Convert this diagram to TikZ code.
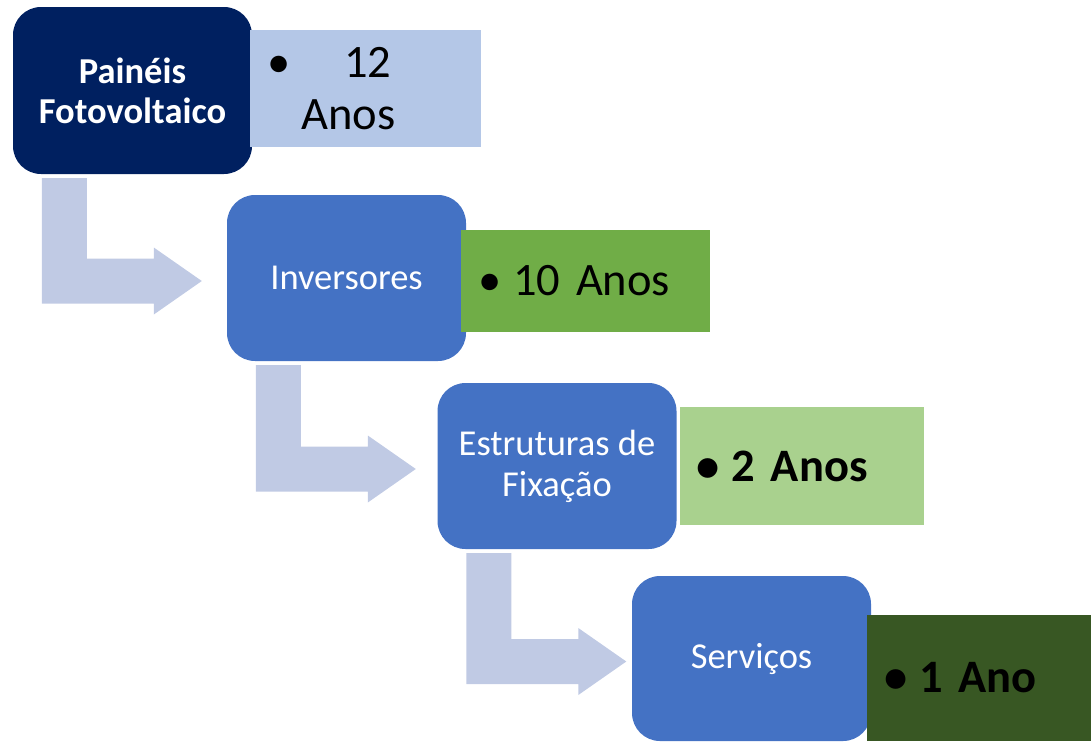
\documentclass[tikz,border=0pt]{standalone}
\usepackage{fontspec}
\setmainfont{Carlito}
\usetikzlibrary{positioning,calc}

\definecolor{navy}{HTML}{002060}
\definecolor{boxblue}{HTML}{4472C4}
\definecolor{paleblue}{HTML}{B4C7E7}
\definecolor{leafgreen}{HTML}{70AD47}
\definecolor{palegreen}{HTML}{A9D18E}
\definecolor{darkgreen}{HTML}{385723}
\definecolor{arrowblue}{HTML}{C0CAE4}

\begin{document}
\begin{tikzpicture}[x=1pt,y=-1pt,
  main node/.style={rounded corners=28pt,fill=boxblue,text=white,align=center,
    minimum width=239pt,minimum height=166pt,inner sep=0pt,
    font=\fontsize{36.5}{41}\selectfont},
  year node/.style={align=left,inner xsep=17pt,inner ysep=0pt,
    font=\fontsize{46.5}{52}\selectfont},
  bent arrow/.style={fill=arrowblue}]

  \useasboundingbox (0,0) rectangle (1091,742);
  \clip (0,0) rectangle (1091,742);

  \node[main node,fill=navy,minimum height=167pt,
    font=\fontsize{36.5}{40}\selectfont\bfseries] (1) at (132.5,90.5) {Painéis\\Fotovoltaico};
  \node[year node,fill=paleblue,text width=197pt,minimum height=117pt,
    right=-2pt of 1,yshift=2pt] (y1) {\makebox[35pt][l]{•}\hspace{42pt}12\\\hspace{34pt}Anos};

  \node[main node] (2) at (346.5,278) {Inversores};
  \node[year node,fill=leafgreen,text width=215pt,minimum height=102pt,
    right=-5pt of 2,yshift=-3pt] (y2) {\makebox[35pt][l]{•}10 Anos};

  \node[main node] (3) at (557,466) {Estruturas de\\Fixação};
  \node[year node,fill=palegreen,text width=210pt,minimum height=118pt,
    right=3pt of 3,font=\fontsize{46.5}{52}\selectfont\bfseries] (y3) {\makebox[35pt][l]{•}2 Anos};

  \node[main node,minimum height=165pt] (4) at (751.5,658.5) {Serviços};
  \node[year node,fill=darkgreen,text width=210pt,minimum height=126pt,
    right=-4pt of 4,yshift=-19.5pt,font=\fontsize{46.5}{52}\selectfont\bfseries] (y4) {\makebox[35pt][l]{•}1 Ano};

  % bent arrows between the steps
  \foreach \a/\b in {1/2,2/3,3/4}{
    \path ($(\a.south west)+(29,4)$) coordinate (s)
          ($(\b.west)+(0,3)$) coordinate (t);
    \fill[bent arrow] (s) -- ($(s)+(45,0)$) -- ($(s|-t)+(45,-22.5)$)
      -- ($(s|-t)+(112,-22.5)$) -- ($(s|-t)+(112,-33.5)$) -- ($(s|-t)+(160,0)$)
      -- ($(s|-t)+(112,33.5)$) -- ($(s|-t)+(112,22.5)$) -- ($(s|-t)+(0,22.5)$) -- cycle;
  }
\end{tikzpicture}
\end{document}
